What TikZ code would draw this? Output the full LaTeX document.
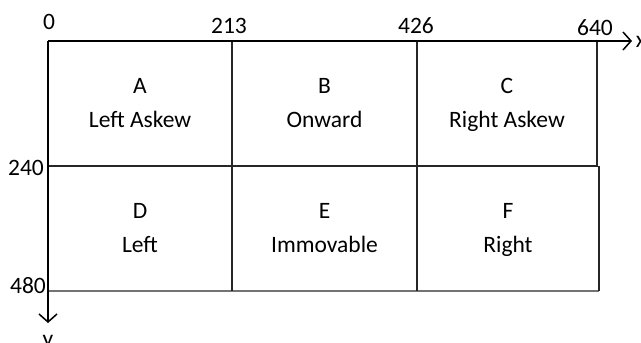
\documentclass[tikz,border=0pt]{standalone}
\usepackage{fontspec}
\setmainfont{Carlito}
\usetikzlibrary{arrows.meta}
\begin{document}
\begin{tikzpicture}[x=1pt,y=-1pt,
  grid/.style={draw=black!85,line width=1.5pt},
  axis/.style={draw=black,line width=1.5pt,-{Straight Barb[length=8pt,width=18pt,line width=1.5pt]}},
  lbl/.style={font=\fontsize{23.5}{28}\selectfont,anchor=base,inner sep=0pt},
  cell/.style={lbl,align=center}]
\useasboundingbox (0,0) rectangle (641,343);
% grid coordinates
\coordinate (o) at (48,41);
\coordinate (xend) at (632,41);
\coordinate (yend) at (48,323);
% cell lines
\draw[grid] (48,166) -- (598,166);
\draw[grid,draw=black!55] (48,291) -- (599,291);
\draw[grid] (232,41) -- (232,291);
\draw[grid] (417,41) -- (417,291);
\draw[grid] (597,41) -- (597,166);
\draw[grid] (599,166) -- (599,291);
% axes
\draw[axis] (o) -- (xend);
\draw[axis] (o) -- (yend);
% axis labels
\node[lbl] (n0) at (49,29) {0};
\node[lbl] (n213) at (229,33) {213};
\node[lbl] (n426) at (416,33) {426};
\node[lbl] (n640) at (595,35) {640};
\node[lbl] (n240) at (26,175) {240};
\node[lbl] (n480) at (28,293) {480};
\node[lbl] (lx) at (641,47) {x};
\node[lbl] (ly) at (48,346) {y};
% cells
\node[lbl] (a1) at (140,93) {A};
\node[lbl] (a2) at (140,127) {Left Askew};
\node[lbl] (b1) at (324.5,93) {B};
\node[lbl] (b2) at (324.5,127) {Onward};
\node[lbl] (c1) at (507,93) {C};
\node[lbl] (c2) at (507,127) {Right Askew};
\node[lbl] (d1) at (140,218) {D};
\node[lbl] (d2) at (140,252) {Left};
\node[lbl] (e1) at (324.5,218) {E};
\node[lbl] (e2) at (324.5,252) {Immovable};
\node[lbl] (f1) at (508,218) {F};
\node[lbl] (f2) at (508,252) {Right};
\end{tikzpicture}
\end{document}
